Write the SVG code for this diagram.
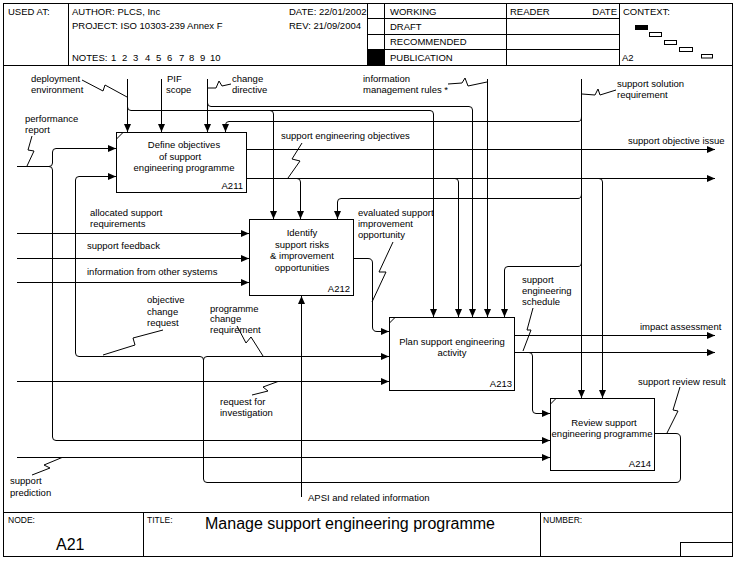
<svg xmlns="http://www.w3.org/2000/svg" width="742" height="567" viewBox="0 0 742 567">
<style>
text{font-family:"Liberation Sans",Arial,sans-serif;font-size:9.5px;fill:#000}
.sm{font-size:8.5px}
.big{font-size:16px}
.c{text-anchor:middle}
.e{text-anchor:end}
.ln{fill:none;stroke:#000;stroke-width:1}
.ar{marker-end:url(#ah)}
.box{fill:#fff;stroke:#000;stroke-width:1}
</style>
<defs>
<marker id="ah" markerUnits="userSpaceOnUse" markerWidth="9" markerHeight="8" refX="8" refY="4" orient="auto"><path d="M0,0.5 L8,4 L0,7.5 Z" fill="#000"/></marker>
</defs>
<rect x="0" y="0" width="742" height="567" fill="#fff"/>

<g id="frame">
<rect class="ln" x="3.5" y="3.5" width="729" height="553"/>
<line class="ln" x1="3.5" y1="65.5" x2="732.5" y2="65.5"/>
<line class="ln" x1="3.5" y1="512.5" x2="732.5" y2="512.5"/>
<line class="ln" x1="68.5" y1="3.5" x2="68.5" y2="65.5"/>
<line class="ln" x1="367.5" y1="3.5" x2="367.5" y2="65.5"/>
<line class="ln" x1="384.5" y1="3.5" x2="384.5" y2="65.5"/>
<line class="ln" x1="506.5" y1="3.5" x2="506.5" y2="65.5"/>
<line class="ln" x1="619.5" y1="3.5" x2="619.5" y2="65.5"/>
<line class="ln" x1="367.5" y1="18.5" x2="619.5" y2="18.5"/>
<line class="ln" x1="367.5" y1="34.5" x2="619.5" y2="34.5"/>
<line class="ln" x1="367.5" y1="49.5" x2="619.5" y2="49.5"/>
<rect x="367.5" y="49.5" width="17" height="16" fill="#000"/>
<text x="8" y="15">USED AT:</text>
<text x="72" y="15">AUTHOR:  PLCS, Inc</text>
<text x="72" y="29">PROJECT:  ISO 10303-239 Annex F</text>
<text x="72" y="61">NOTES:<tspan x="111">1</tspan><tspan x="122">2</tspan><tspan x="133">3</tspan><tspan x="145">4</tspan><tspan x="156">5</tspan><tspan x="167">6</tspan><tspan x="179">7</tspan><tspan x="189">8</tspan><tspan x="200">9</tspan><tspan x="210">10</tspan></text>
<text x="289" y="15">DATE: 22/01/2002</text>
<text x="289" y="29">REV:   21/09/2004</text>
<text x="390" y="15">WORKING</text>
<text x="390" y="30">DRAFT</text>
<text x="390" y="45">RECOMMENDED</text>
<text x="390" y="61">PUBLICATION</text>
<text x="510" y="15">READER</text>
<text x="617" y="15" class="e">DATE</text>
<text x="623" y="15">CONTEXT:</text>
<text x="622" y="61">A2</text>
<rect x="635" y="25" width="13" height="5" fill="#000"/>
<rect class="ln" x="649.5" y="32.5" width="12" height="4"/>
<rect class="ln" x="664.5" y="40.5" width="12" height="4"/>
<rect class="ln" x="679.5" y="47.5" width="13" height="4"/>
<rect class="ln" x="701.5" y="54.5" width="11" height="3.5"/>
<line class="ln" x1="143.5" y1="512.5" x2="143.5" y2="556.5"/>
<line class="ln" x1="540.5" y1="512.5" x2="540.5" y2="556.5"/>
<rect class="ln" x="680.5" y="542.5" width="52" height="14"/>
<text x="8" y="523" class="sm">NODE:</text>
<text x="56" y="550" class="big">A21</text>
<text x="147" y="523" class="sm">TITLE:</text>
<text x="205" y="529" class="big">Manage support engineering programme</text>
<text x="543" y="523" class="sm">NUMBER:</text>
</g>

<g id="connectors">
<!-- deployment environment -->
<path class="ln ar" d="M127.5,79 V132"/>
<path class="ln ar" d="M127.5,107 Q127.5,110.5 131,110.5 H430 Q433.5,110.5 433.5,114 V317"/>
<path class="ln ar" d="M270,110.5 Q273.5,110.5 273.5,114 V219"/>
<path class="ln" d="M82,80 L103,91 L105,85 L127,97"/>
<!-- PIF scope -->
<path class="ln ar" d="M161.5,79 V132"/>
<!-- change directive -->
<path class="ln ar" d="M207.5,79 V132"/>
<path class="ln ar" d="M207.5,103 Q207.5,106.5 211,106.5 H469 Q472.5,106.5 472.5,110 V317"/>
<path class="ln" d="M208,88 L216,88 L219,81 L222,86 L231,84"/>
<!-- information management rules -->
<path class="ln ar" d="M487.5,79 V317"/>
<path class="ln" d="M448,84 L462,83 L465,78 L468,86 L487,82"/>
<!-- support solution requirement -->
<path class="ln ar" d="M581.5,79 V398"/>
<path class="ln ar" d="M581.5,117 Q581.5,121.5 578,121.5 H229 Q225.5,121.5 225.5,125 V132"/>
<path class="ln ar" d="M581.5,194 Q581.5,198.5 578,198.5 H341 Q337.5,198.5 337.5,202 V219"/>
<path class="ln ar" d="M581.5,262 Q581.5,266.5 578,266.5 H508 Q504.5,266.5 504.5,270 V317"/>
<path class="ln" d="M582,94 L595,95 L598,89 L600,95 L616,90"/>
<!-- performance report -->
<path class="ln ar" d="M17,166.5 H49 Q52.5,166.5 52.5,163 V152 Q52.5,148.5 56,148.5 H116"/>
<path class="ln ar" d="M49,166.5 Q52.5,166.5 52.5,170 V437 Q52.5,440.5 56,440.5 H550"/>
<path class="ln" d="M32,136 L28,150 L34,151 L27,166"/>
<!-- A211 outputs -->
<path class="ln ar" d="M246,149.5 H715"/>
<path class="ln ar" d="M246,178.5 H715"/>
<path class="ln ar" d="M297,178.5 Q300.5,178.5 300.5,182 V219"/>
<path class="ln ar" d="M455,178.5 Q458.5,178.5 458.5,182 V317"/>
<path class="ln ar" d="M599,178.5 Q602.5,178.5 602.5,182 V398"/>
<path class="ln" d="M302,143 L292,159 L300,161 L288,178"/>
<!-- inputs to A212 -->
<path class="ln ar" d="M17,233.5 H249"/>
<path class="ln ar" d="M17,258.5 H249"/>
<path class="ln ar" d="M17,282.5 H249"/>
<!-- A212 output -->
<path class="ln ar" d="M353,258.5 H368 Q372.5,258.5 372.5,263 V327 Q372.5,331.5 377,331.5 H389"/>
<path class="ln" d="M393,242 L379,272 L386,272 L372,302"/>
<!-- A214 feedback -->
<path class="ln" d="M654,433.5 H676 Q680.5,433.5 680.5,438 V478 Q680.5,482.5 676,482.5 H207 Q203.5,482.5 203.5,479 V360 Q203.5,356.5 200,356.5 H79 Q75.5,356.5 75.5,353 V180 Q75.5,176.5 79,176.5 H116" marker-end="url(#ah)"/>
<path class="ln ar" d="M203.5,360 Q203.5,356.5 207,356.5 H389"/>
<path class="ln" d="M163,330 L133,338 L135,345 L103,355"/>
<path class="ln" d="M237,326 L246,343 L251,337 L263,356"/>
<path class="ln" d="M680,387 L673,410 L678,411 L667,433"/>
<!-- A213 outputs -->
<path class="ln ar" d="M514,335.5 H715"/>
<path class="ln ar" d="M514,352.5 H715"/>
<path class="ln ar" d="M529,352.5 Q532.5,352.5 532.5,356 V410 Q532.5,413.5 536,413.5 H550"/>
<path class="ln" d="M533,308 L527,330 L531,330 L523,351"/>
<!-- request for investigation -->
<path class="ln ar" d="M17,381.5 H389"/>
<path class="ln" d="M252,395 L268,391 L263,387 L278,381.5"/>
<!-- support prediction -->
<path class="ln ar" d="M17,457.5 H550"/>
<path class="ln" d="M32,475 L50,468 L44,465 L62,457.5"/>
<!-- APSI -->
<path class="ln ar" d="M301.5,497 V296"/>
</g>

<g id="labels">
<text x="31" y="82">deployment</text>
<text x="31" y="93">environment</text>
<text x="167" y="82">PIF</text>
<text x="166" y="93">scope</text>
<text x="232" y="82">change</text>
<text x="232" y="93">directive</text>
<text x="363" y="82">information</text>
<text x="363" y="93">management rules *</text>
<text x="617" y="87">support solution</text>
<text x="617" y="98">requirement</text>
<text x="25" y="122">performance</text>
<text x="25" y="133">report</text>
<text x="281" y="139">support engineering objectives</text>
<text x="628" y="144">support objective issue</text>
<text x="90" y="216">allocated support</text>
<text x="90" y="227">requirements</text>
<text x="87" y="249">support feedback</text>
<text x="87" y="275">information from other systems</text>
<text x="358" y="216">evaluated support</text>
<text x="358" y="227">improvement</text>
<text x="358" y="238">opportunity</text>
<text x="147" y="303">objective</text>
<text x="147" y="315">change</text>
<text x="147" y="326">request</text>
<text x="210" y="312">programme</text>
<text x="210" y="322">change</text>
<text x="210" y="333">requirement</text>
<text x="522" y="283">support</text>
<text x="522" y="294">engineering</text>
<text x="522" y="305">schedule</text>
<text x="640" y="330">impact assessment</text>
<text x="638" y="385">support review result</text>
<text x="220" y="405">request for</text>
<text x="220" y="416">investigation</text>
<text x="10" y="484">support</text>
<text x="10" y="496">prediction</text>
<text x="308" y="501">APSI and related information</text>
</g>

<g id="A211">
<rect class="box" x="116.5" y="132.5" width="130" height="60"/>
<path class="ln" d="M116.5,139 L122.5,133"/>
<text x="184" y="148" class="c">Define objectives</text>
<text x="180" y="160" class="c">of support</text>
<text x="184" y="171" class="c">engineering programme</text>
<text x="243" y="189" class="e">A211</text>
</g>
<g id="A212">
<rect class="box" x="249.5" y="219.5" width="104" height="76"/>
<text x="302" y="236" class="c">Identify</text>
<text x="302" y="247.5" class="c">support risks</text>
<text x="302" y="259" class="c">&amp; improvement</text>
<text x="302" y="270.5" class="c">opportunities</text>
<text x="350" y="292" class="e">A212</text>
</g>
<g id="A213">
<rect class="box" x="389.5" y="317.5" width="125" height="73"/>
<path class="ln" d="M389.5,323 L395,317.5"/>
<text x="452" y="345" class="c">Plan support engineering</text>
<text x="452" y="356" class="c">activity</text>
<text x="512" y="387" class="e">A213</text>
</g>
<g id="A214">
<rect class="box" x="550.5" y="398.5" width="104" height="72"/>
<path class="ln" d="M550.5,404 L556,398.5"/>
<text x="604" y="426" class="c">Review support</text>
<text x="602" y="437" class="c">engineering programme</text>
<text x="651" y="467" class="e">A214</text>
</g>
</svg>
